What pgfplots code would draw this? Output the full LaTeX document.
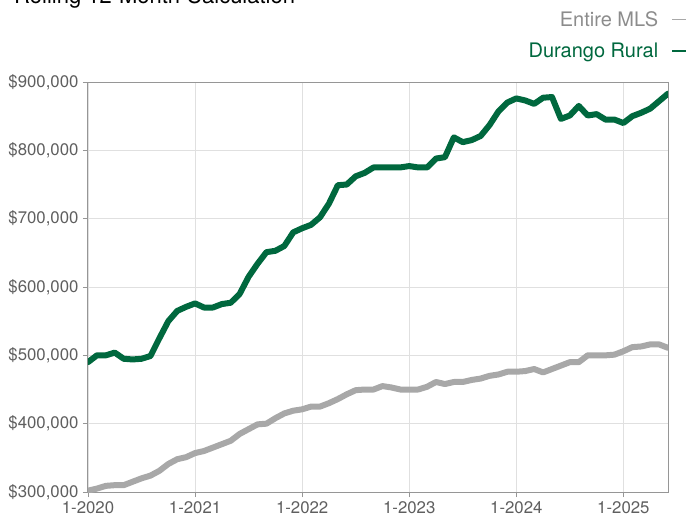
\documentclass[border=0pt]{standalone}
\usepackage{pgfplots}
\pgfplotsset{compat=1.18}
\usepackage{pgfplotstable}
\usepackage{fontspec}
\setmainfont{TeX Gyre Heros}
\definecolor{drgreen}{RGB}{0,104,62}
\definecolor{mlsgray}{RGB}{168,168,168}
\definecolor{axgray}{RGB}{150,150,150}
\definecolor{gridgray}{RGB}{224,224,224}
\definecolor{labgray}{RGB}{95,95,95}
\definecolor{leggray}{RGB}{140,140,140}

\pgfplotstableread{
m v
0 302000
1 305000
2 309000
3 310000
4 310000
5 315000
6 320000
7 324000
8 331000
9 341000
10 348000
11 351000
12 357000
13 360000
14 365000
15 370000
16 375000
17 385000
18 392000
19 399000
20 400000
21 408000
22 415000
23 419000
24 421000
25 425000
26 425000
27 430000
28 436000
29 443000
30 449000
31 450000
32 450000
33 455000
34 453000
35 450000
36 450000
37 450000
38 454000
39 461000
40 458000
41 461000
42 461000
43 464000
44 466000
45 470000
46 472000
47 476000
48 476000
49 477000
50 480000
51 475000
52 480000
53 485000
54 490000
55 490000
56 500000
57 500000
58 500000
59 501000
60 506000
61 512000
62 513000
63 516000
64 516000
65 511000
}\mlstable

\pgfplotstableread{
m v
0 490000
1 500000
2 500000
3 504000
4 495000
5 494000
6 495000
7 499000
8 525000
9 550000
10 565000
11 571000
12 576000
13 570000
14 570000
15 575000
16 577000
17 590000
18 615000
19 634000
20 651000
21 653000
22 660000
23 680000
24 686000
25 691000
26 702000
27 722000
28 749000
29 750000
30 762000
31 767000
32 775000
33 775000
34 775000
35 775000
36 777000
37 775000
38 775000
39 788000
40 790000
41 819000
42 812000
43 815000
44 821000
45 837000
46 857000
47 870000
48 876000
49 873000
50 868000
51 877000
52 878000
53 846000
54 851000
55 865000
56 851000
57 853000
58 845000
59 845000
60 840000
61 850000
62 855000
63 861000
64 872000
65 883000
}\drtable

\begin{document}
\begin{tikzpicture}
\useasboundingbox (0pt,0pt) rectangle (688pt,-520pt);
\node[anchor=base west, inner sep=0pt, font=\fontsize{22}{26}\selectfont, text=black] at (14pt,-3.5pt) {Rolling 12-Month Calculation};
\begin{axis}[
  at={(88pt,-492pt)}, anchor=south west,
  scale only axis, width=580pt, height=410pt,
  xmin=0, xmax=65, ymin=300000, ymax=900000,
  scaled ticks=false,
  xtick={0,12,24,36,48,60},
  xticklabels={1-2020,1-2021,1-2022,1-2023,1-2024,1-2025},
  ytick={300000,400000,500000,600000,700000,800000,900000},
  yticklabels={{\$300,000},{\$400,000},{\$500,000},{\$600,000},{\$700,000},{\$800,000},{\$900,000}},
  tick pos=left, tick align=outside, major tick length=5pt,
  tick style={axgray, line width=0.8pt},
  axis line style={axgray, line width=1pt},
  grid=major, major grid style={gridgray, line width=0.9pt},
  ticklabel style={font=\fontsize{16.8}{20}\selectfont, text=labgray},
  yticklabel style={xshift=-1pt},
  xticklabel style={yshift=-1pt},
  legend cell align=right,
  legend plot pos=right,
  legend image code/.code={\draw[#1, line width=1.6pt, line cap=butt] (0pt,0pt) -- (14pt,0pt);},
  legend style={draw=none, fill=none, at={(axis description cs:1,1)}, anchor=south east,
    xshift=19pt, yshift=23pt, font=\fontsize{20}{24}\selectfont,
    row sep=15pt, column sep=13pt, inner sep=0pt,
    nodes={inner sep=0pt}},
]
\addplot[mlsgray, line width=6pt, line join=round, line cap=round] table[x=m, y=v] {\mlstable};
\addlegendentry[text=leggray]{Entire MLS}
\addplot[drgreen, line width=6pt, line join=round, line cap=round] table[x=m, y=v] {\drtable};
\addlegendentry[text=drgreen]{Durango Rural}
\end{axis}
\end{tikzpicture}
\end{document}
